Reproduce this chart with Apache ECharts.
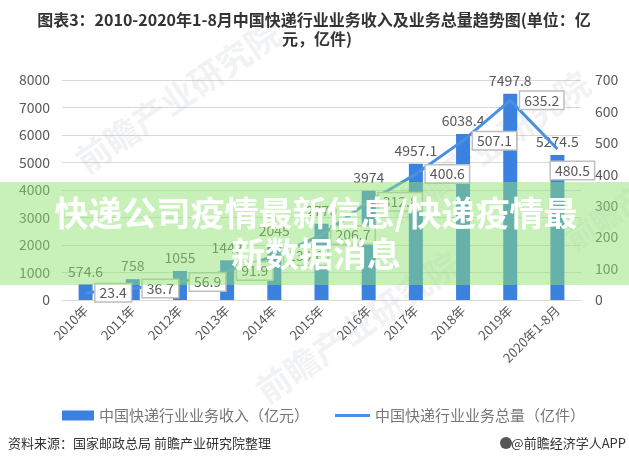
<!DOCTYPE html>
<html><head><meta charset="utf-8">
<script src="https://cdn.jsdelivr.net/npm/echarts@6/dist/echarts.min.js"></script>
<style>html,body{margin:0;padding:0;background:#fff}#c{width:629px;height:466px}</style>
</head><body><div id="c"></div>
<script>
const categories = ['2010年','2011年','2012年','2013年','2014年','2015年','2016年','2017年','2018年','2019年','2020年1-8月'];
const revenue = [574.6, 758, 1055, 1442, 2045, 2770, 3974, 4957.1, 6038.4, 7497.8, 5274.5];
const volume = [23.4, 36.7, 56.9, 91.9, 139.6, 206.7, 312.8, 400.6, 507.1, 635.2, 480.5];
const leftTicks = [0, 8000, 1000];
const rightTicks = [0, 700, 100];

const FONT = '"Noto Sans CJK SC","Noto Sans",sans-serif';
const chart = echarts.init(document.getElementById('c'), null, {renderer:'canvas'});

const wm = (x, y, s, rot) => ({type:'text', x:x, y:y, rotation:rot, z:1, silent:true,
  style:{text:'前瞻产业研究院', fill:'rgba(170,175,185,0.16)', font:'bold '+s+'px '+FONT}});

const volumeData = volume.map((v, i) => i === volume.length - 1
  ? {value:v, label:{position:'bottom', distance:13, offset:[15, 0]}}
  : v);

chart.setOption({
  animation:false,
  textStyle:{fontFamily:FONT},
  legend:[
    {left:57, top:403, itemWidth:32, itemHeight:10,
      textStyle:{fontSize:15, color:'#777', fontFamily:FONT},
      data:[{name:'中国快递行业业务收入（亿元）', icon:'rect'}]},
    {left:330, top:403, itemWidth:35, itemHeight:3, itemGap:5,
      textStyle:{fontSize:15, color:'#777', fontFamily:FONT},
      data:[{name:'中国快递行业业务总量（亿件）', icon:'rect'}]}
  ],
  grid:{left:62, right:48, top:80, bottom:166, containLabel:false},
  xAxis:{type:'category', data:categories,
    axisLine:{lineStyle:{color:'#d9d9d9', width:1}}, axisTick:{show:false},
    axisLabel:{rotate:45, color:'#595959', fontSize:13, margin:8, interval:0}},
  yAxis:[
    {type:'value', min:leftTicks[0], max:leftTicks[1], interval:leftTicks[2],
      axisLine:{show:false}, axisTick:{show:false},
      axisLabel:{color:'#595959', fontSize:14, margin:12, formatter:v => String(v)},
      splitLine:{lineStyle:{color:'#d9d9d9', width:1}}},
    {type:'value', min:rightTicks[0], max:rightTicks[1], interval:rightTicks[2],
      axisLine:{show:false}, axisTick:{show:false},
      axisLabel:{color:'#595959', fontSize:14, margin:14, formatter:v => String(v)},
      splitLine:{show:false}}
  ],
  series:[
    {name:'中国快递行业业务收入（亿元）', type:'bar', data:revenue, barWidth:14, yAxisIndex:0,
      itemStyle:{color:'#3b82e0'},
      label:{show:true, position:'top', distance:6, color:'#595959', fontSize:14}},
    {name:'中国快递行业业务总量（亿件）', type:'line', data:volumeData, yAxisIndex:1,
      symbol:'circle', symbolSize:0, lineStyle:{color:'#4a8fe2', width:3}, itemStyle:{color:'#4a8fe2'},
      z:5,
      label:{show:true, position:'right', distance:10, color:'#595959', fontSize:14,
        backgroundColor:'#fff', borderColor:'#bfbfbf', borderWidth:1.5, padding:[2,4,1,4]}}
  ],
  graphic:[
    {type:'text', x:314, y:20, z:10, style:{text:'图表3：2010-2020年1-8月中国快递行业业务收入及业务总量趋势图(单位：亿', fill:'#333', font:'bold 16px '+FONT, textAlign:'center', textVerticalAlign:'middle'}},
    {type:'text', x:317, y:39, z:10, style:{text:'元，亿件)', fill:'#333', font:'bold 16px '+FONT, textAlign:'center', textVerticalAlign:'middle'}},
    wm(70, 150, 34, 0.6), wm(380, 200, 34, 0.6), wm(250, 380, 34, 0.6), wm(560, 230, 30, 0.6),
    {type:'rect', shape:{x:0, y:182, width:629, height:103}, z:100, silent:true,
      style:{fill:'rgba(145,225,115,0.5)'}},
    {type:'text', x:316, y:213, z:101, silent:true,
      style:{text:'快递公司疫情最新信息/快递疫情最', fill:'#fff', font:'bold 34px '+FONT,
        textAlign:'center', textVerticalAlign:'middle'}},
    {type:'text', x:316, y:254, z:101, silent:true,
      style:{text:'新数据消息', fill:'#fff', font:'bold 34px '+FONT,
        textAlign:'center', textVerticalAlign:'middle'}},
    {type:'text', x:8, y:443, z:10, style:{text:'资料来源：国家邮政总局 前瞻产业研究院整理', fill:'#333', font:'13px '+FONT, textVerticalAlign:'middle'}},
    {type:'circle', shape:{cx:506, cy:443, r:6}, z:10, style:{fill:'#555'}},
    {type:'text', x:626, y:443, z:10, style:{text:'@前瞻经济学人APP', fill:'#333', font:'13px '+FONT, textAlign:'right', textVerticalAlign:'middle'}}
  ]
});
</script></body></html>
